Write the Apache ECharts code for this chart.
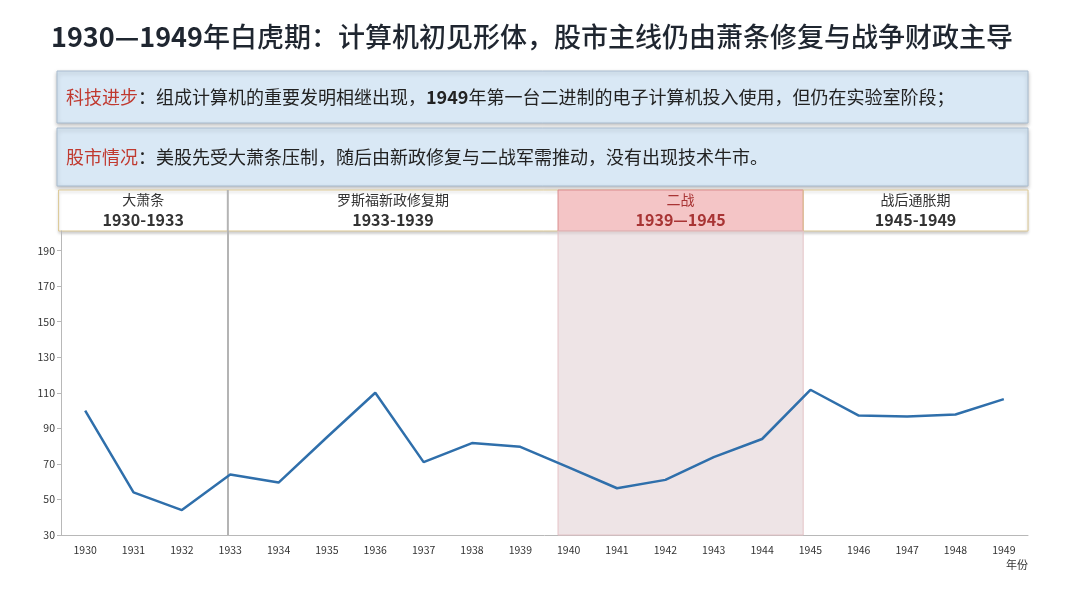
<!DOCTYPE html>
<html>
<head>
<meta charset="utf-8">
<script src="https://cdn.jsdelivr.net/npm/echarts@6/dist/echarts.min.js"></script>
<style>
html, body { margin: 0; padding: 0; background: #fff; }
#chart { width: 1080px; height: 608px; }
</style>
</head>
<body>
<div id="chart"></div>
<script>
let years = ['1930', '1931', '1932', '1933', '1934', '1935', '1936', '1937', '1938', '1939',
    '1940', '1941', '1942', '1943', '1944', '1945', '1946', '1947', '1948', '1949'];
let index = [100, 54, 44, 64, 59.5, 85, 110, 71, 81.7, 79.6,
    68, 56.3, 61, 73.8, 84, 111.7, 97.2, 96.7, 97.8, 106.4];
let yTicks = [30, 50, 70, 90, 110, 130, 150, 170, 190];

// periods shown in the strip above the plot, edges in years
let periodNames = ['大萧条', '罗斯福新政修复期', '二战', '战后通胀期'];
let periodRanges = ['1930-1933', '1933-1939', '1939—1945', '1945-1949'];
let periodEdges = [1929.45, 1932.95, 1939.78, 1944.85, 1949.5];
let warPeriod = 2;

let FONT = '"Noto Sans CJK SC", "Noto Sans", sans-serif';

let option = {
    animation: false,
    textStyle: { fontFamily: FONT },
    title: {
        left: 46,
        top: 18,
        text: '{b|1930—1949}{n|年白虎期：计算机初见形体，股市主线仍由萧条修复与战争财政主导}',
        textStyle: {
            rich: {
                b: { fontSize: 27, fontWeight: 'bold', color: '#1f2630', fontFamily: FONT },
                n: { fontSize: 27, fontWeight: 500, color: '#1f2630', fontFamily: FONT }
            }
        }
    },
    grid: { left: 61, right: 52, top: 231, bottom: 73 },
    xAxis: [
        {
            type: 'category',
            data: years,
            name: '年份',
            nameLocation: 'end',
            nameGap: 0,
            nameTextStyle: {
                color: '#333', fontSize: 11, align: 'right', verticalAlign: 'top',
                padding: [24, 0, 0, 0]
            },
            axisLine: { lineStyle: { color: '#b8b8b8', width: 1 } },
            axisTick: { show: false },
            axisLabel: { color: '#333', fontSize: 10.5, margin: 10 }
        },
        {
            type: 'value',
            min: 1929.5,
            max: 1949.5,
            show: false
        }
    ],
    yAxis: {
        type: 'value',
        min: 30,
        max: 201,
        axisLine: { show: true, lineStyle: { color: '#b8b8b8', width: 1 } },
        axisTick: { show: true, length: 4, lineStyle: { color: '#b8b8b8' }, customValues: yTicks },
        axisLabel: { color: '#333', fontSize: 10.5, margin: 6, customValues: yTicks },
        splitLine: { show: false }
    },
    series: [
        {
            type: 'line',
            xAxisIndex: 1,
            data: [],
            silent: true,
            markArea: {
                silent: true,
                itemStyle: { color: 'rgba(226, 210, 214, 0.6)', borderColor: '#e4c2c6', borderWidth: 1 },
                data: [[{ xAxis: periodEdges[warPeriod] }, { xAxis: periodEdges[warPeriod + 1] }]]
            },
            markLine: {
                silent: true,
                symbol: 'none',
                label: { show: false },
                lineStyle: { color: '#b4b4b4', width: 2, type: 'solid' },
                data: [{ xAxis: periodEdges[1] }]
            }
        },
        {
            type: 'line',
            data: index,
            symbol: 'none',
            lineStyle: { color: '#2f6fab', width: 2.5 },
            z: 5
        }
    ]
};

let chart = echarts.init(document.getElementById('chart'));
chart.setOption(option);

let px = v => chart.convertToPixel({ xAxisIndex: 1 }, v);

function infoBox(y, h, head, bodyRich) {
    return {
        type: 'group',
        children: [
            {
                type: 'rect',
                shape: { x: 57, y: y, width: 971, height: h },
                style: {
                    fill: '#d9e8f5', stroke: '#a9bccf', lineWidth: 1,
                    shadowBlur: 4, shadowOffsetY: 2, shadowColor: 'rgba(0,0,0,0.25)'
                }
            },
            {
                type: 'text',
                x: 66,
                y: y + h / 2,
                style: {
                    text: '{r|' + head + '}' + bodyRich,
                    verticalAlign: 'middle',
                    rich: {
                        r: { fontSize: 18, fill: '#c0392f', fontFamily: FONT },
                        n: { fontSize: 18, fill: '#222', fontFamily: FONT },
                        b: { fontSize: 18, fill: '#222', fontWeight: 'bold', fontFamily: FONT }
                    }
                }
            }
        ]
    };
}

let graphics = [
    infoBox(71, 52, '科技进步',
        '{n|：组成计算机的重要发明相继出现，}{b|1949}{n|年第一台二进制的电子计算机投入使用，但仍在实验室阶段；}'),
    infoBox(128, 58, '股市情况',
        '{n|：美股先受大萧条压制，随后由新政修复与二战军需推动，没有出现技术牛市。}')
];

// outer strip
let x0 = px(periodEdges[0]);
let xEnd = px(periodEdges[periodEdges.length - 1]);
graphics.push({
    type: 'rect',
    shape: { x: x0, y: 190, width: xEnd - x0, height: 41 },
    style: {
        fill: '#fff', stroke: '#dcc894', lineWidth: 1,
        shadowBlur: 3, shadowOffsetY: 2, shadowColor: 'rgba(0,0,0,0.2)'
    }
});

periodNames.forEach((name, i) => {
    let a = px(periodEdges[i]);
    let b = px(periodEdges[i + 1]);
    let war = i === warPeriod;
    if (war) {
        graphics.push({
            type: 'rect',
            shape: { x: a, y: 190, width: b - a, height: 41 },
            style: { fill: '#f4c5c6', stroke: '#d98c8e', lineWidth: 1 }
        });
    } else if (i > 0) {
        graphics.push({
            type: 'line',
            shape: { x1: a, y1: 190, x2: a, y2: 231 },
            style: { stroke: i === 1 ? '#b4b4b4' : '#dcc894', lineWidth: i === 1 ? 2 : 1 }
        });
    }
    let color = war ? '#a83434' : '#333';
    graphics.push({
        type: 'text',
        x: (a + b) / 2,
        y: 200,
        style: { text: name, fontSize: 14, fill: color, align: 'center', verticalAlign: 'middle', fontFamily: FONT }
    });
    graphics.push({
        type: 'text',
        x: (a + b) / 2,
        y: 220,
        style: {
            text: periodRanges[i], fontSize: 16, fontWeight: 'bold', fill: color,
            align: 'center', verticalAlign: 'middle', fontFamily: FONT
        }
    });
});

chart.setOption({ graphic: graphics });
</script>
</body>
</html>
